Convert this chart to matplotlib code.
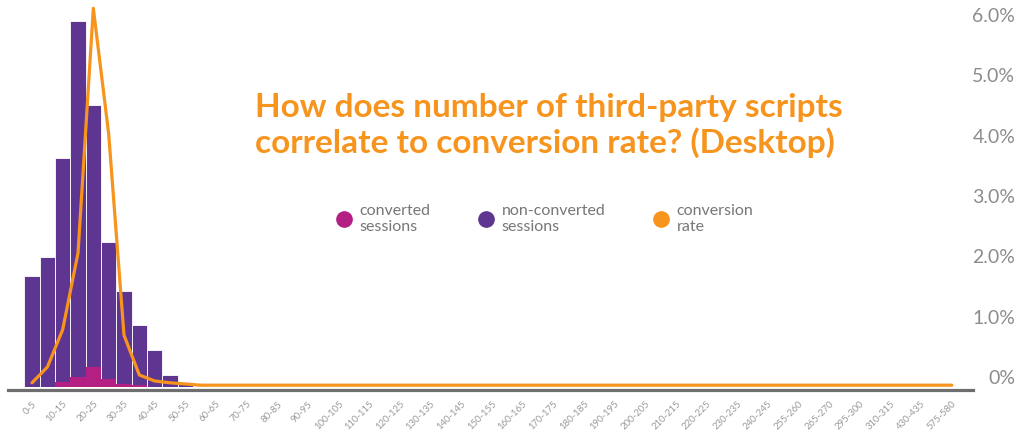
import matplotlib.pyplot as plt
import numpy as np
from matplotlib.lines import Line2D

# категорії: кількість сторонніх скриптів
categories = [
    "0-5", "5-10", "10-15", "15-20", "20-25", "25-30", "30-35", "35-40",
    "40-45", "45-50", "50-55", "55-60", "60-65", "65-70", "70-75", "75-80",
    "80-85", "85-90", "90-95", "95-100", "100-105", "105-110", "110-115",
    "115-120", "120-125", "125-130", "130-135", "135-140", "140-145",
    "145-150", "150-155", "155-160", "160-165", "165-170", "170-175",
    "175-180", "180-185", "185-190", "190-195", "195-200", "200-205",
    "205-210", "210-215", "215-220", "220-225", "225-230", "230-235",
    "235-240", "240-245", "250-255", "255-260", "260-265", "265-270",
    "275-280", "295-300", "305-310", "310-315", "345-350", "430-435",
    "480-485", "575-580",
]
n = len(categories)

# частка сесій, %
non_converted = [7.5, 8.8, 15.5, 24.8, 19.1, 9.8, 6.5, 4.2, 2.5, 0.8, 0.35, 0.1] + [0.0] * (n - 12)
converted = [0.02, 0.03, 0.34, 0.68, 1.35, 0.54, 0.2, 0.14, 0.03] + [0.0] * (n - 9)

# коефіцієнт конверсії, %
conversion_rate = [0.07, 0.33, 0.95, 2.22, 6.28, 4.2, 0.86, 0.2, 0.1, 0.07, 0.05] + [0.03] * (n - 11)

title_lines = ["How does number of third-party scripts", "correlate to conversion rate? (Desktop)"]

PURPLE = "#5f3592"
MAGENTA = "#b41f84"
ORANGE = "#f7941d"
GREY = "#8c8c8c"

plt.rcParams["font.family"] = ["Lato", "DejaVu Sans"]

W, H = 1023, 433
fig = plt.figure(figsize=(W / 100, H / 100), dpi=100)
ax = fig.add_axes([8 / W, (H - 387) / H, (973 - 8) / W, 387 / H])

x = np.arange(n)
ax.bar(x, non_converted, width=1.0, color=PURPLE, edgecolor="white", linewidth=0.6, zorder=2)
ax.bar(x, converted, width=1.0, color=MAGENTA, linewidth=0, zorder=3)
ax.set_xlim(-1.566, 61.38)
ax.set_ylim(0, 26.2)

for side in ["left", "right", "top"]:
    ax.spines[side].set_visible(False)
ax.spines["bottom"].set_color("#6e6e6e")
ax.spines["bottom"].set_linewidth(2.3)
ax.spines["bottom"].set_position(("outward", 2))
ax.set_yticks([])
ax.set_xticks(x[::2])
ax.set_xticklabels(categories[::2], rotation=45, ha="right", rotation_mode="anchor",
                   fontsize=6.8, color="#9a9a9a")
ax.tick_params(axis="x", length=0, pad=7)

# лінія коефіцієнта конверсії на правій осі
ax2 = ax.twinx()
ax2.plot(x, conversion_rate, color=ORANGE, lw=2.3, solid_joinstyle="round",
         solid_capstyle="round", zorder=4)
ax2.set_ylim(0, 387 / 60.3)
for side in ax2.spines:
    ax2.spines[side].set_visible(False)
ticks = [0, 1, 2, 3, 4, 5, 6]
ax2.set_yticks(ticks)
ax2.set_yticklabels(["0%"] + [f"{t:.1f}%" for t in ticks[1:]])
ax2.tick_params(axis="y", length=0, pad=30.5, labelsize=14, labelcolor=GREY)
for lbl in ax2.get_yticklabels():
    lbl.set_horizontalalignment("right")
    lbl.set_verticalalignment("bottom")

# заголовок
for line, base in zip(title_lines, [117, 153]):
    fig.text(255 / W, 1 - base / H, line, color=ORANGE, fontsize=24,
             fontweight="bold", ha="left", va="baseline")

handles = [Line2D([], [], marker="o", ls="", color=c, markersize=11)
           for c in (MAGENTA, PURPLE, ORANGE)]
labels = ["converted\nsessions", "non-converted\nsessions", "conversion\nrate"]
fig.legend(handles, labels, ncol=3, loc="center left", bbox_to_anchor=(322 / W, 1 - 219 / H),
           frameon=False, fontsize=11.5, labelcolor="#777777", handletextpad=0.45,
           columnspacing=3.0, handlelength=1.0)

fig.savefig("out.png", dpi=100)
